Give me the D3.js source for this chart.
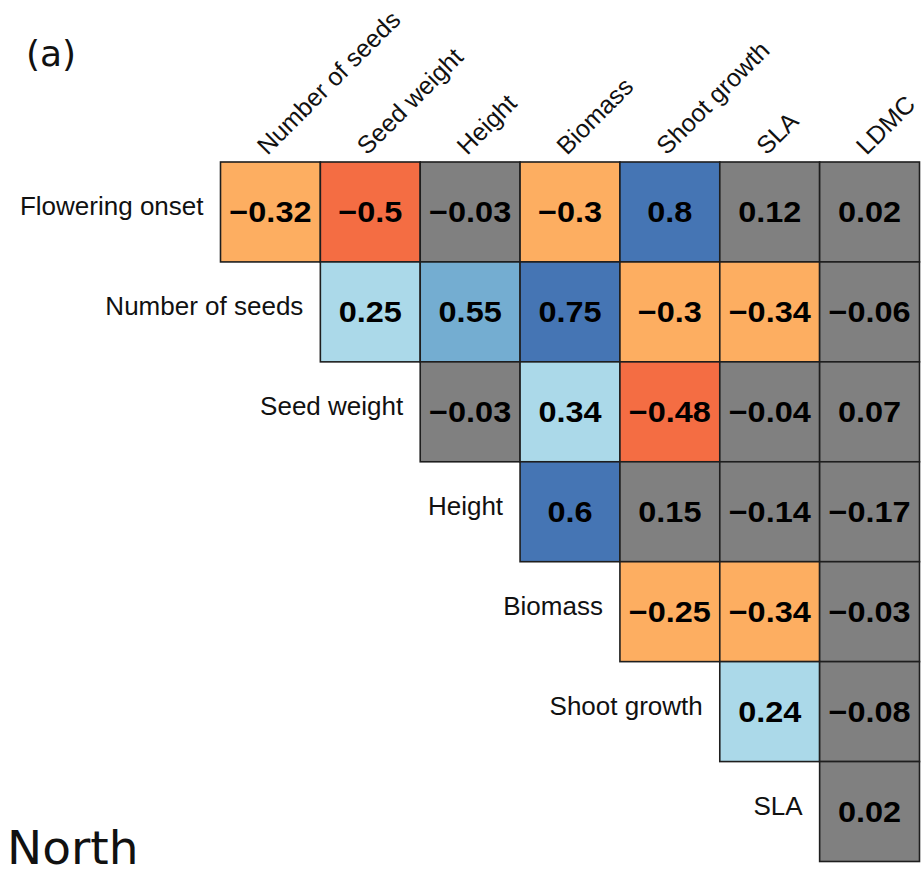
<!DOCTYPE html>
<html>
<head>
<meta charset="utf-8">
<script src="https://cdn.jsdelivr.net/npm/d3@7"></script>
<style>
  html, body { margin: 0; padding: 0; background: #fff; }
  svg { display: block; }
</style>
</head>
<body>
<svg id="chart" width="922" height="874"></svg>
<script>
// Trait names: rows (left labels) and columns (top labels)
const rowTraits = ["Flowering onset", "Number of seeds", "Seed weight", "Height", "Biomass", "Shoot growth", "SLA"];
const colTraits = ["Number of seeds", "Seed weight", "Height", "Biomass", "Shoot growth", "SLA", "LDMC"];

// Upper-triangle correlations; each row starts at the column with the same index
const floweringOnset = [-0.32, -0.5, -0.03, -0.3, 0.8, 0.12, 0.02];
const numberOfSeeds  = [0.25, 0.55, 0.75, -0.3, -0.34, -0.06];
const seedWeight     = [-0.03, 0.34, -0.48, -0.04, 0.07];
const height         = [0.6, 0.15, -0.14, -0.17];
const biomass        = [-0.25, -0.34, -0.03];
const shootGrowth    = [0.24, -0.08];
const sla            = [0.02];

// Colour classes for correlation strength
const classBreaks = [-0.4, -0.2, 0.2, 0.4, 0.6];
const classColours = ["#F46D43", "#FDAE61", "#808080", "#ABD9E9", "#74ADD1", "#4575B4"];

const panelLabel = "(a)";
const regionLabel = "North";

const rowValues = [floweringOnset, numberOfSeeds, seedWeight, height, biomass, shootGrowth, sla];
const cells = [];
rowValues.forEach((vals, r) => {
  vals.forEach((v, k) => {
    cells.push({ row: rowTraits[r], col: colTraits[r + k], value: v });
  });
});

const svg = d3.select("#chart");

const x = d3.scaleBand().domain(colTraits).range([220.5, 919.5]).padding(0);
const y = d3.scaleBand().domain(rowTraits).range([162, 861.5]).padding(0);
const colour = d3.scaleThreshold().domain(classBreaks).range(classColours);

const fmt = v => String(v).replace("-", "\u2212");

// Cells
const g = svg.append("g");
g.selectAll("rect.cell")
  .data(cells)
  .join("rect")
  .attr("class", "cell")
  .attr("x", d => x(d.col))
  .attr("y", d => y(d.row))
  .attr("width", x.bandwidth())
  .attr("height", y.bandwidth())
  .attr("fill", d => colour(d.value))
  .attr("stroke", "#1e1e1e")
  .attr("stroke-width", 1.6);

// Cell values (slightly widened bold numerals)
const valueSize = 29;
g.selectAll("text.value")
  .data(cells)
  .join("text")
  .attr("class", "value")
  .attr("transform", d =>
    `translate(${x(d.col) + x.bandwidth() / 2},${y(d.row) + y.bandwidth() / 2 + valueSize * 0.36}) scale(1.12,1)`)
  .attr("text-anchor", "middle")
  .attr("font-family", "'Liberation Sans', Arial, sans-serif")
  .attr("font-weight", "bold")
  .attr("font-size", valueSize)
  .attr("fill", "#000")
  .text(d => fmt(d.value));

// Row labels, right-aligned against the first cell of each row
svg.append("g")
  .selectAll("text")
  .data(rowTraits)
  .join("text")
  .attr("x", (d, i) => x(colTraits[i]) - 17)
  .attr("y", d => y(d) + y.bandwidth() / 2 + 3)
  .attr("text-anchor", "end")
  .attr("font-family", "'Liberation Sans', Arial, sans-serif")
  .attr("font-size", 26)
  .attr("fill", "#111")
  .text(d => d);

// Column labels, rotated above the top row
svg.append("g")
  .selectAll("text")
  .data(colTraits)
  .join("text")
  .attr("transform", d => `translate(${x(d) + x.bandwidth() / 2 - 3},${y.range()[0] - 6}) rotate(-45)`)
  .attr("text-anchor", "start")
  .attr("font-family", "'Liberation Sans', Arial, sans-serif")
  .attr("font-size", 25)
  .attr("fill", "#111")
  .text(d => d);

// Panel tag and region title
svg.append("text")
  .attr("x", 26)
  .attr("y", 66)
  .attr("font-family", "'DejaVu Sans', Verdana, sans-serif")
  .attr("font-size", 36)
  .attr("fill", "#111")
  .text(panelLabel);

svg.append("text")
  .attr("x", 7)
  .attr("y", 864)
  .attr("font-family", "'DejaVu Sans', Verdana, sans-serif")
  .attr("font-size", 47)
  .attr("fill", "#111")
  .text(regionLabel);
</script>
</body>
</html>
